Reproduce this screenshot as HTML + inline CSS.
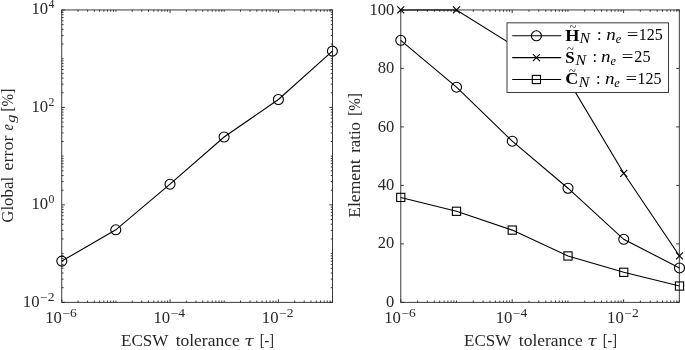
<!DOCTYPE html>
<html lang="en"><head><meta charset="utf-8"><title>ECSW tolerance study</title>
<style>html,body{margin:0;padding:0;background:#fff}svg{display:block}</style></head>
<body>
<svg width="685" height="350" viewBox="0 0 685 350">
<rect width="685" height="350" fill="#fff"/>
<g fill="none" stroke="#262626" stroke-width="0.9">
<rect x="61.75" y="9.95" width="270.80" height="292.40"/>
<path d="M61.75 302.35v-3.1M61.75 9.95v3.1M78.05 302.35v-1.8M78.05 9.95v1.8M87.59 302.35v-1.8M87.59 9.95v1.8M94.36 302.35v-1.8M94.36 9.95v1.8M99.61 302.35v-1.8M99.61 9.95v1.8M103.89 302.35v-1.8M103.89 9.95v1.8M107.52 302.35v-1.8M107.52 9.95v1.8M110.66 302.35v-1.8M110.66 9.95v1.8M113.43 302.35v-1.8M113.43 9.95v1.8M115.91 302.35v-1.8M115.91 9.95v1.8M132.21 302.35v-1.8M132.21 9.95v1.8M141.75 302.35v-1.8M141.75 9.95v1.8M148.52 302.35v-1.8M148.52 9.95v1.8M153.77 302.35v-1.8M153.77 9.95v1.8M158.05 302.35v-1.8M158.05 9.95v1.8M161.68 302.35v-1.8M161.68 9.95v1.8M164.82 302.35v-1.8M164.82 9.95v1.8M167.59 302.35v-1.8M167.59 9.95v1.8M170.07 302.35v-3.1M170.07 9.95v3.1M186.37 302.35v-1.8M186.37 9.95v1.8M195.91 302.35v-1.8M195.91 9.95v1.8M202.68 302.35v-1.8M202.68 9.95v1.8M207.93 302.35v-1.8M207.93 9.95v1.8M212.21 302.35v-1.8M212.21 9.95v1.8M215.84 302.35v-1.8M215.84 9.95v1.8M218.98 302.35v-1.8M218.98 9.95v1.8M221.75 302.35v-1.8M221.75 9.95v1.8M224.23 302.35v-1.8M224.23 9.95v1.8M240.53 302.35v-1.8M240.53 9.95v1.8M250.07 302.35v-1.8M250.07 9.95v1.8M256.84 302.35v-1.8M256.84 9.95v1.8M262.09 302.35v-1.8M262.09 9.95v1.8M266.37 302.35v-1.8M266.37 9.95v1.8M270.00 302.35v-1.8M270.00 9.95v1.8M273.14 302.35v-1.8M273.14 9.95v1.8M275.91 302.35v-1.8M275.91 9.95v1.8M278.39 302.35v-3.1M278.39 9.95v3.1M294.69 302.35v-1.8M294.69 9.95v1.8M304.23 302.35v-1.8M304.23 9.95v1.8M311.00 302.35v-1.8M311.00 9.95v1.8M316.25 302.35v-1.8M316.25 9.95v1.8M320.53 302.35v-1.8M320.53 9.95v1.8M324.16 302.35v-1.8M324.16 9.95v1.8M327.30 302.35v-1.8M327.30 9.95v1.8M330.07 302.35v-1.8M330.07 9.95v1.8M332.55 302.35v-1.8M332.55 9.95v1.8"/>
<path d="M61.75 302.35h3.1M332.55 302.35h-3.1M61.75 287.68h1.8M332.55 287.68h-1.8M61.75 279.10h1.8M332.55 279.10h-1.8M61.75 273.01h1.8M332.55 273.01h-1.8M61.75 268.29h1.8M332.55 268.29h-1.8M61.75 264.43h1.8M332.55 264.43h-1.8M61.75 261.17h1.8M332.55 261.17h-1.8M61.75 258.34h1.8M332.55 258.34h-1.8M61.75 255.85h1.8M332.55 255.85h-1.8M61.75 253.62h1.8M332.55 253.62h-1.8M61.75 238.95h1.8M332.55 238.95h-1.8M61.75 230.36h1.8M332.55 230.36h-1.8M61.75 224.28h1.8M332.55 224.28h-1.8M61.75 219.55h1.8M332.55 219.55h-1.8M61.75 215.69h1.8M332.55 215.69h-1.8M61.75 212.43h1.8M332.55 212.43h-1.8M61.75 209.61h1.8M332.55 209.61h-1.8M61.75 207.11h1.8M332.55 207.11h-1.8M61.75 204.88h3.1M332.55 204.88h-3.1M61.75 190.21h1.8M332.55 190.21h-1.8M61.75 181.63h1.8M332.55 181.63h-1.8M61.75 175.54h1.8M332.55 175.54h-1.8M61.75 170.82h1.8M332.55 170.82h-1.8M61.75 166.96h1.8M332.55 166.96h-1.8M61.75 163.70h1.8M332.55 163.70h-1.8M61.75 160.87h1.8M332.55 160.87h-1.8M61.75 158.38h1.8M332.55 158.38h-1.8M61.75 156.15h1.8M332.55 156.15h-1.8M61.75 141.48h1.8M332.55 141.48h-1.8M61.75 132.90h1.8M332.55 132.90h-1.8M61.75 126.81h1.8M332.55 126.81h-1.8M61.75 122.09h1.8M332.55 122.09h-1.8M61.75 118.23h1.8M332.55 118.23h-1.8M61.75 114.97h1.8M332.55 114.97h-1.8M61.75 112.14h1.8M332.55 112.14h-1.8M61.75 109.65h1.8M332.55 109.65h-1.8M61.75 107.42h3.1M332.55 107.42h-3.1M61.75 92.75h1.8M332.55 92.75h-1.8M61.75 84.16h1.8M332.55 84.16h-1.8M61.75 78.08h1.8M332.55 78.08h-1.8M61.75 73.35h1.8M332.55 73.35h-1.8M61.75 69.49h1.8M332.55 69.49h-1.8M61.75 66.23h1.8M332.55 66.23h-1.8M61.75 63.41h1.8M332.55 63.41h-1.8M61.75 60.91h1.8M332.55 60.91h-1.8M61.75 58.68h1.8M332.55 58.68h-1.8M61.75 44.01h1.8M332.55 44.01h-1.8M61.75 35.43h1.8M332.55 35.43h-1.8M61.75 29.34h1.8M332.55 29.34h-1.8M61.75 24.62h1.8M332.55 24.62h-1.8M61.75 20.76h1.8M332.55 20.76h-1.8M61.75 17.50h1.8M332.55 17.50h-1.8M61.75 14.67h1.8M332.55 14.67h-1.8M61.75 12.18h1.8M332.55 12.18h-1.8M61.75 9.95h3.1M332.55 9.95h-3.1"/>
<rect x="400.8" y="9.95" width="278.50" height="292.40"/>
<path d="M400.80 302.35v-3.1M400.80 9.95v3.1M417.57 302.35v-1.8M417.57 9.95v1.8M427.38 302.35v-1.8M427.38 9.95v1.8M434.33 302.35v-1.8M434.33 9.95v1.8M439.73 302.35v-1.8M439.73 9.95v1.8M444.14 302.35v-1.8M444.14 9.95v1.8M447.87 302.35v-1.8M447.87 9.95v1.8M451.10 302.35v-1.8M451.10 9.95v1.8M453.95 302.35v-1.8M453.95 9.95v1.8M456.50 302.35v-1.8M456.50 9.95v1.8M473.27 302.35v-1.8M473.27 9.95v1.8M483.08 302.35v-1.8M483.08 9.95v1.8M490.03 302.35v-1.8M490.03 9.95v1.8M495.43 302.35v-1.8M495.43 9.95v1.8M499.84 302.35v-1.8M499.84 9.95v1.8M503.57 302.35v-1.8M503.57 9.95v1.8M506.80 302.35v-1.8M506.80 9.95v1.8M509.65 302.35v-1.8M509.65 9.95v1.8M512.20 302.35v-3.1M512.20 9.95v3.1M528.97 302.35v-1.8M528.97 9.95v1.8M538.78 302.35v-1.8M538.78 9.95v1.8M545.73 302.35v-1.8M545.73 9.95v1.8M551.13 302.35v-1.8M551.13 9.95v1.8M555.54 302.35v-1.8M555.54 9.95v1.8M559.27 302.35v-1.8M559.27 9.95v1.8M562.50 302.35v-1.8M562.50 9.95v1.8M565.35 302.35v-1.8M565.35 9.95v1.8M567.90 302.35v-1.8M567.90 9.95v1.8M584.67 302.35v-1.8M584.67 9.95v1.8M594.48 302.35v-1.8M594.48 9.95v1.8M601.43 302.35v-1.8M601.43 9.95v1.8M606.83 302.35v-1.8M606.83 9.95v1.8M611.24 302.35v-1.8M611.24 9.95v1.8M614.97 302.35v-1.8M614.97 9.95v1.8M618.20 302.35v-1.8M618.20 9.95v1.8M621.05 302.35v-1.8M621.05 9.95v1.8M623.60 302.35v-3.1M623.60 9.95v3.1M640.37 302.35v-1.8M640.37 9.95v1.8M650.18 302.35v-1.8M650.18 9.95v1.8M657.13 302.35v-1.8M657.13 9.95v1.8M662.53 302.35v-1.8M662.53 9.95v1.8M666.94 302.35v-1.8M666.94 9.95v1.8M670.67 302.35v-1.8M670.67 9.95v1.8M673.90 302.35v-1.8M673.90 9.95v1.8M676.75 302.35v-1.8M676.75 9.95v1.8M679.30 302.35v-1.8M679.30 9.95v1.8"/>
<path d="M400.8 302.35h3.1M679.3 302.35h-3.1M400.8 243.87h3.1M679.3 243.87h-3.1M400.8 185.39h3.1M679.3 185.39h-3.1M400.8 126.91h3.1M679.3 126.91h-3.1M400.8 68.43h3.1M679.3 68.43h-3.1M400.8 9.95h3.1M679.3 9.95h-3.1"/>
</g>
<g fill="none" stroke="#000" stroke-width="1.1">
<polyline points="61.80,261.10 115.80,229.80 170.00,184.20 224.10,137.00 278.40,99.50 332.40,51.10"/>
<circle cx="61.80" cy="261.10" r="5.0"/>
<circle cx="115.80" cy="229.80" r="5.0"/>
<circle cx="170.00" cy="184.20" r="5.0"/>
<circle cx="224.10" cy="137.00" r="5.0"/>
<circle cx="278.40" cy="99.50" r="5.0"/>
<circle cx="332.40" cy="51.10" r="5.0"/>
<polyline points="400.75,40.31 456.50,87.18 512.25,141.20 568.00,188.21 623.75,239.31 679.50,267.93"/>
<circle cx="400.75" cy="40.31" r="5.0"/>
<circle cx="456.50" cy="87.18" r="5.0"/>
<circle cx="512.25" cy="141.20" r="5.0"/>
<circle cx="568.00" cy="188.21" r="5.0"/>
<circle cx="623.75" cy="239.31" r="5.0"/>
<circle cx="679.50" cy="267.93" r="5.0"/>
<polyline points="400.75,9.95 456.50,9.95 512.25,44.84 568.00,79.88 623.75,173.32 679.50,255.96"/>
<path d="M397.25 6.45l7.0 7.0M397.25 13.45l7.0 -7.0"/>
<path d="M453.00 6.45l7.0 7.0M453.00 13.45l7.0 -7.0"/>
<path d="M508.75 41.34l7.0 7.0M508.75 48.34l7.0 -7.0"/>
<path d="M564.50 76.38l7.0 7.0M564.50 83.38l7.0 -7.0"/>
<path d="M620.25 169.82l7.0 7.0M620.25 176.82l7.0 -7.0"/>
<path d="M676.00 252.46l7.0 7.0M676.00 259.46l7.0 -7.0"/>
<polyline points="400.75,197.41 456.50,211.28 512.25,230.11 568.00,255.96 623.75,272.31 679.50,286.03"/>
<rect x="396.65" y="193.31" width="8.2" height="8.2"/>
<rect x="452.40" y="207.18" width="8.2" height="8.2"/>
<rect x="508.15" y="226.01" width="8.2" height="8.2"/>
<rect x="563.90" y="251.86" width="8.2" height="8.2"/>
<rect x="619.65" y="268.21" width="8.2" height="8.2"/>
<rect x="675.40" y="281.93" width="8.2" height="8.2"/>
</g>
<rect x="507.0" y="22.85" width="161.50" height="69.60" fill="#fff" stroke="#262626" stroke-width="0.9"/>
<g fill="none" stroke="#000" stroke-width="1.1">
<path d="M512.2 35.8H561.2"/>
<circle cx="536.40" cy="35.80" r="5.0"/>
<path d="M512.2 57.6H561.2"/>
<path d="M532.90 54.10l7.0 7.0M532.90 61.10l7.0 -7.0"/>
<path d="M512.2 79.5H561.2"/>
<rect x="532.30" y="75.40" width="8.2" height="8.2"/>
</g>
<g font-family="'Liberation Serif', 'DejaVu Serif', serif" fill="#262626" font-size="16.5">
<text x="22.80" y="306.65" textLength="16.7" lengthAdjust="spacingAndGlyphs">10</text><text x="40.00" y="300.55" font-size="11.8" textLength="14.4" lengthAdjust="spacingAndGlyphs">−2</text>
<text x="31.40" y="209.18" textLength="16.7" lengthAdjust="spacingAndGlyphs">10</text><text x="48.60" y="203.08" font-size="11.8">0</text>
<text x="31.40" y="111.72" textLength="16.7" lengthAdjust="spacingAndGlyphs">10</text><text x="48.60" y="105.62" font-size="11.8">2</text>
<text x="31.40" y="14.25" textLength="16.7" lengthAdjust="spacingAndGlyphs">10</text><text x="48.60" y="8.15" font-size="11.8">4</text>
<text x="45.20" y="323.10" textLength="16.7" lengthAdjust="spacingAndGlyphs">10</text><text x="62.40" y="317.00" font-size="11.8" textLength="14.4" lengthAdjust="spacingAndGlyphs">−6</text>
<text x="153.52" y="323.10" textLength="16.7" lengthAdjust="spacingAndGlyphs">10</text><text x="170.72" y="317.00" font-size="11.8" textLength="14.4" lengthAdjust="spacingAndGlyphs">−4</text>
<text x="261.84" y="323.10" textLength="16.7" lengthAdjust="spacingAndGlyphs">10</text><text x="279.04" y="317.00" font-size="11.8" textLength="14.4" lengthAdjust="spacingAndGlyphs">−2</text>
<text x="384.25" y="323.10" textLength="16.7" lengthAdjust="spacingAndGlyphs">10</text><text x="401.45" y="317.00" font-size="11.8" textLength="14.4" lengthAdjust="spacingAndGlyphs">−6</text>
<text x="495.65" y="323.10" textLength="16.7" lengthAdjust="spacingAndGlyphs">10</text><text x="512.85" y="317.00" font-size="11.8" textLength="14.4" lengthAdjust="spacingAndGlyphs">−4</text>
<text x="607.05" y="323.10" textLength="16.7" lengthAdjust="spacingAndGlyphs">10</text><text x="624.25" y="317.00" font-size="11.8" textLength="14.4" lengthAdjust="spacingAndGlyphs">−2</text>
<text x="394.2" y="306.95" text-anchor="end">0</text>
<text x="394.2" y="248.47" text-anchor="end">20</text>
<text x="394.2" y="189.99" text-anchor="end">40</text>
<text x="394.2" y="131.51" text-anchor="end">60</text>
<text x="394.2" y="73.03" text-anchor="end">80</text>
<text x="394.2" y="14.55" text-anchor="end">100</text>
</g>
<g font-family="'Liberation Serif', 'DejaVu Serif', serif" fill="#262626" font-size="17.4">
<text x="121.00" y="345.6" textLength="47.3" lengthAdjust="spacingAndGlyphs">ECSW</text><text x="175.70" y="345.6" textLength="64" lengthAdjust="spacingAndGlyphs">tolerance</text><text x="244.20" y="345.6" font-family="DejaVu Serif, Liberation Serif, serif" font-style="italic" font-size="14.5" textLength="9.6" lengthAdjust="spacingAndGlyphs">τ</text><text x="259.70" y="345.6" textLength="14.2" lengthAdjust="spacingAndGlyphs">[-]</text>
<text x="464.10" y="345.6" textLength="47.3" lengthAdjust="spacingAndGlyphs">ECSW</text><text x="518.80" y="345.6" textLength="64" lengthAdjust="spacingAndGlyphs">tolerance</text><text x="587.30" y="345.6" font-family="DejaVu Serif, Liberation Serif, serif" font-style="italic" font-size="14.5" textLength="9.6" lengthAdjust="spacingAndGlyphs">τ</text><text x="602.80" y="345.6" textLength="14.2" lengthAdjust="spacingAndGlyphs">[-]</text>
<g transform="translate(13.3,223) rotate(-90)">
<text x="0.3" y="0" textLength="45.8" lengthAdjust="spacingAndGlyphs">Global</text>
<text x="52.4" y="0" textLength="35.0" lengthAdjust="spacingAndGlyphs">error</text>
<text x="92.6" y="0" textLength="6.4" lengthAdjust="spacingAndGlyphs" font-style="italic">e</text>
<text x="100.2" y="1.4" font-style="italic" font-size="12" textLength="8.2" lengthAdjust="spacingAndGlyphs">g</text>
<text x="111.6" y="0" textLength="22.6" lengthAdjust="spacingAndGlyphs">[%]</text>
</g>
<g transform="translate(359.6,218) rotate(-90)">
<text x="0.3" y="0" textLength="58.4" lengthAdjust="spacingAndGlyphs">Element</text>
<text x="65.3" y="0" textLength="30.6" lengthAdjust="spacingAndGlyphs">ratio</text>
<text x="102.2" y="0" textLength="22.6" lengthAdjust="spacingAndGlyphs">[%]</text>
</g>
</g>
<g font-family="'Liberation Serif', 'DejaVu Serif', serif" fill="#000" font-size="16.5">
<text x="565.2" y="40.70" font-weight="bold" font-size="17.4" textLength="14.2" lengthAdjust="spacingAndGlyphs">H</text><text x="572.90" y="31.30" text-anchor="middle" font-size="12.5">~</text><text x="579.6" y="43.3" font-style="italic" font-size="14" textLength="10.6" lengthAdjust="spacingAndGlyphs">N</text><text x="597.0" y="40.3">:</text><text x="606.2" y="40.3" font-style="italic" textLength="9.5" lengthAdjust="spacingAndGlyphs">n</text><text x="615.8" y="43.10" font-style="italic" font-size="12.4">e</text><text x="626.70" y="40.3" textLength="11.6" lengthAdjust="spacingAndGlyphs">=</text><text x="638.8" y="40.3" textLength="24.0" lengthAdjust="spacingAndGlyphs">125</text>
<text x="565.2" y="62.50" font-weight="bold" font-size="17.4" textLength="9.4" lengthAdjust="spacingAndGlyphs">S</text><text x="570.50" y="53.10" text-anchor="middle" font-size="12.5">~</text><text x="575.4" y="65.1" font-style="italic" font-size="14" textLength="10.6" lengthAdjust="spacingAndGlyphs">N</text><text x="592.4" y="62.1">:</text><text x="601.0" y="62.1" font-style="italic" textLength="9.5" lengthAdjust="spacingAndGlyphs">n</text><text x="610.6" y="64.90" font-style="italic" font-size="12.4">e</text><text x="621.80" y="62.1" textLength="11.6" lengthAdjust="spacingAndGlyphs">=</text><text x="634.3" y="62.1" textLength="16.2" lengthAdjust="spacingAndGlyphs">25</text>
<text x="565.2" y="84.30" font-weight="bold" font-size="17.4" textLength="13.0" lengthAdjust="spacingAndGlyphs">C</text><text x="572.30" y="74.90" text-anchor="middle" font-size="12.5">~</text><text x="578.8" y="86.9" font-style="italic" font-size="14" textLength="10.6" lengthAdjust="spacingAndGlyphs">N</text><text x="596.0" y="83.9">:</text><text x="604.9" y="83.9" font-style="italic" textLength="9.5" lengthAdjust="spacingAndGlyphs">n</text><text x="614.3" y="86.70" font-style="italic" font-size="12.4">e</text><text x="625.40" y="83.9" textLength="11.6" lengthAdjust="spacingAndGlyphs">=</text><text x="637.4" y="83.9" textLength="24.0" lengthAdjust="spacingAndGlyphs">125</text>
</g>
</svg>
</body></html>
